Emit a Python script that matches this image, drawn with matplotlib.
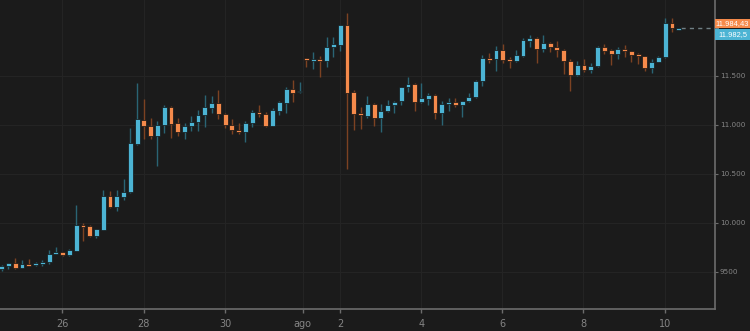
import matplotlib
matplotlib.use("Agg")
import matplotlib.pyplot as plt
import matplotlib.transforms as mtransforms
from matplotlib.patches import Rectangle
import numpy as np

# 4h candles, BTC/EUR style quote
opens = [9531, 9562, 9592, 9545, 9585, 9568, 9579, 9599, 9684, 9704,
         9677, 9718, 9977, 9966, 9871, 9932, 10269, 10160, 10266, 10310,
         10803, 11051, 10990, 10888, 10997, 11177, 11017, 10929, 10983, 11024,
         11099, 11170, 11218, 11113, 10997, 10949, 10929, 11017, 11133, 11113,
         10990, 11140, 11225, 11361, 11330, 11677, 11650, 11667, 11650, 11796,
         11813, 12017, 11337, 11116, 11092, 11208, 11065, 11136, 11201, 11238,
         11388, 11419, 11235, 11266, 11306, 11119, 11211, 11232, 11198, 11245,
         11279, 11446, 11681, 11667, 11762, 11667, 11647, 11701, 11857, 11881,
         11769, 11834, 11796, 11762, 11653, 11507, 11609, 11555, 11596, 11793,
         11762, 11721, 11776, 11752, 11721, 11701, 11579, 11636, 11687, 12041,
         11970]
highs = [9568, 9592, 9647, 9623, 9630, 9606, 9619, 9721, 9749, 9704,
         9738, 10184, 9997, 9977, 9939, 10334, 10324, 10334, 10446, 10966,
         11425, 11262, 11065, 11034, 11198, 11191, 11068, 11014, 11089, 11150,
         11303, 11293, 11354, 11123, 11055, 11014, 11034, 11150, 11198, 11133,
         11167, 11242, 11381, 11456, 11436, 11684, 11745, 11704, 11891, 11891,
         12017, 12136, 11354, 11184, 11289, 11218, 11208, 11252, 11245, 11388,
         11483, 11429, 11425, 11327, 11313, 11245, 11272, 11272, 11245, 11320,
         11456, 11711, 11728, 11803, 11823, 11687, 11762, 11881, 11919, 11898,
         11919, 11847, 11851, 11776, 11670, 11647, 11667, 11633, 11806, 11820,
         11772, 11789, 11813, 11755, 11732, 11701, 11667, 11701, 12085, 12085,
         11984]
lows = [9511, 9531, 9531, 9538, 9562, 9565, 9562, 9582, 9681, 9660,
        9667, 9711, 9817, 9857, 9847, 9926, 10153, 10123, 10238, 10306,
        10796, 10857, 10851, 10579, 10919, 10861, 10881, 10857, 10932, 10936,
        10980, 11123, 11055, 10970, 10902, 10902, 10827, 10980, 11082, 10980,
        10990, 11099, 11123, 11235, 11327, 11585, 11565, 11490, 11592, 11694,
        11752, 10545, 10946, 10959, 11068, 10990, 10929, 11126, 11123, 11201,
        11337, 11143, 11218, 11204, 11058, 11000, 11140, 11177, 11082, 11235,
        11269, 11398, 11626, 11544, 11626, 11579, 11640, 11694, 11796, 11633,
        11742, 11738, 11687, 11517, 11347, 11497, 11541, 11531, 11585, 11725,
        11609, 11674, 11687, 11640, 11619, 11551, 11531, 11636, 11681, 11946,
        11966]
closes = [9562, 9592, 9541, 9585, 9565, 9585, 9602, 9681, 9704, 9674,
          9728, 9980, 9960, 9871, 9939, 10269, 10160, 10269, 10317, 10810,
          11058, 10990, 10888, 10997, 11177, 11011, 10929, 10987, 11024, 11099,
          11177, 11218, 11109, 10997, 10949, 10929, 11017, 11133, 11113, 10990,
          11150, 11232, 11361, 11327, 11347, 11664, 11664, 11647, 11796, 11820,
          12017, 11327, 11109, 11096, 11208, 11065, 11140, 11201, 11235, 11388,
          11419, 11235, 11272, 11306, 11119, 11215, 11232, 11198, 11245, 11279,
          11446, 11677, 11660, 11762, 11660, 11647, 11708, 11861, 11881, 11769,
          11830, 11793, 11762, 11653, 11507, 11609, 11555, 11596, 11793, 11755,
          11721, 11776, 11752, 11711, 11701, 11575, 11640, 11694, 12041, 11987,
          11982.5]

last_price = 11984.43
last_close = 11982.5

# day ticks, in candle-index units
day_ticks = [8.9, 20.95, 33.0, 44.45, 49.95, 61.95, 73.9, 85.85, 97.95]
day_labels = ["26", "28", "30", "ago", "2", "4", "6", "8", "10"]
price_ticks = [9500, 10000, 10500, 11000, 11500]
price_labels = ["9500", "10.000", "10.500", "11.000", "11.500"]

BG = "#1b1b1b"
UP = "#4cb4d4"
UP_WICK = "#2a6474"
DOWN = "#f58a4b"
DOWN_WICK = "#7c4222"
AXIS = "#6c6c6c"
TXT = "#858585"
GRID = "#242424"

fig = plt.figure(figsize=(7.5, 3.31), dpi=100, facecolor=BG)
ax = fig.add_axes([0, 21.7 / 331, 715 / 750, 309.3 / 331], facecolor=BG)

o = np.array(opens, dtype=float)
h = np.array(highs, dtype=float)
l = np.array(lows, dtype=float)
c = np.array(closes, dtype=float)
x = np.arange(len(o))
up = c >= o

body_col = np.where(up, UP, DOWN)
wick_col = np.where(up, UP_WICK, DOWN_WICK)

ax.vlines(x, l, h, colors=wick_col, linewidth=1.0, zorder=2)
bottom = np.minimum(o, c)
height = np.maximum(np.abs(c - o), 18)
ax.bar(x, height, width=0.72, bottom=bottom, color=body_col,
       edgecolor="#141414", linewidth=0.5, zorder=3)

# dashed line from last candle to the price axis
ax.plot([x[-1] + 0.4, 106], [last_close, last_close], color="#6f7f84",
        linewidth=1.0, linestyle=(0, (3, 3)), zorder=2, clip_on=False)

ax.set_xlim(-0.25, 105.35)
ax.set_ylim(9119, 12272)

ax.set_xticks(day_ticks)
ax.set_xticklabels(day_labels)
ax.set_yticks(price_ticks)
ax.set_yticklabels(price_labels)
ax.yaxis.tick_right()
ax.grid(True, color=GRID, linewidth=0.8)
ax.set_axisbelow(True)

for side in ["top", "left"]:
    ax.spines[side].set_visible(False)
for side in ["right", "bottom"]:
    ax.spines[side].set_color(AXIS)
    ax.spines[side].set_linewidth(1.2)

ax.tick_params(axis="x", colors=AXIS, labelcolor=TXT, labelsize=7,
               length=3, width=1, pad=4)
ax.tick_params(axis="y", colors=AXIS, labelcolor=TXT, labelsize=5.2,
               length=2, width=0.8, pad=1.5)

# price tags on the right axis: ask above the line, last close below
trans = mtransforms.blended_transform_factory(ax.transAxes, ax.transData)
tag_w = 750 / 715 - 1.0
tags = [(last_close + 5, 95, DOWN, "11.984,43"),
        (last_close - 115, 110, UP, "11.982,5")]
for y0, hgt, col, txt in tags:
    ax.add_patch(Rectangle((1.0, y0), tag_w, hgt, transform=trans,
                           facecolor=col, edgecolor="none", clip_on=False,
                           zorder=5))
    ax.text(1.0 + tag_w / 2, y0 + hgt / 2, txt, transform=trans,
            ha="center", va="center", fontsize=5.4, color="white",
            family="Liberation Sans", clip_on=False, zorder=6)

fig.savefig("out.png", dpi=100, facecolor=BG)
